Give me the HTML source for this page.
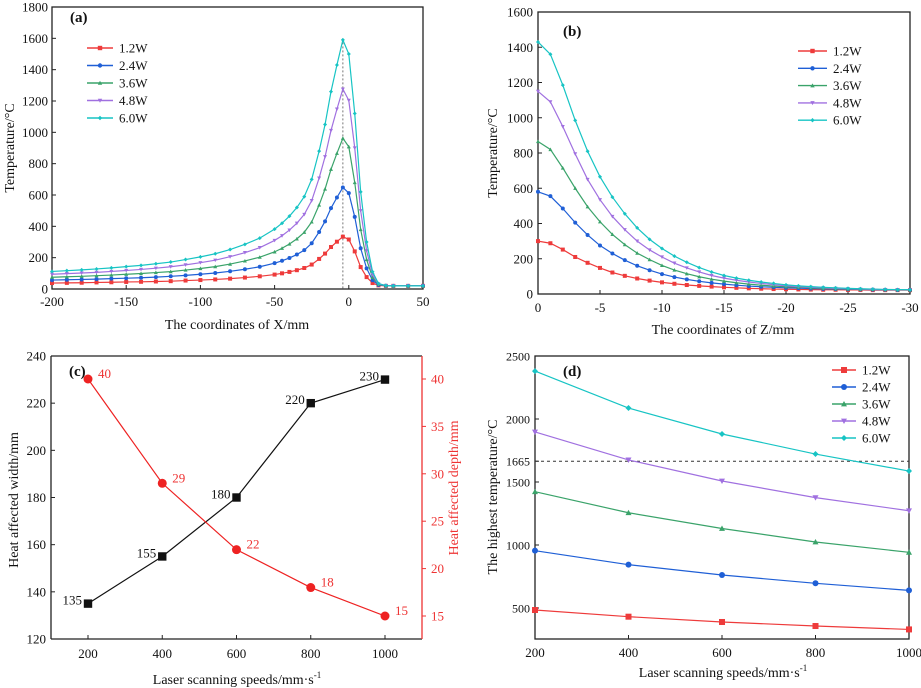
<!DOCTYPE html>
<html><head><meta charset="utf-8"><style>
html,body{margin:0;padding:0;background:#fff}
svg{display:block;font-family:"Liberation Serif",serif}
</style></head><body>
<svg id="fig" width="921" height="688" viewBox="0 0 921 688" xmlns="http://www.w3.org/2000/svg"></svg>
<script>
// ---------- data ----------
const powers = ["1.2W","2.4W","3.6W","4.8W","6.0W"];
const colors = ["#ee3b3b","#1f5fd6","#3aa36a","#a070e0","#17c4c4"];
const aX = [-200,-190,-180,-170,-160,-150,-140,-130,-120,-110,-100,-90,-80,-70,-60,-50,-45,-40,-35,-30,-25,-20,-16,-12,-8,-4,0,4,8,12,16,20,25,30,40,50];
const aT12 = [38,39,40,42,43,45,46,48,50,54,57,61,66,73,81,92,100,109,120,134,156,192,226,268,302,334,316,240,140,76,38,23,20,20,20,20];
const aT24 = [57,59,61,63,66,69,72,76,81,87,94,102,113,126,142,165,180,198,220,248,292,364,432,516,584,648,612,460,260,132,56,26,21,20,20,20];
const aT36 = [75,78,81,85,89,94,99,105,111,121,131,143,159,179,203,237,260,287,320,362,428,536,638,764,866,962,908,680,380,188,74,29,21,20,20,20];
const aT48 = [94,98,102,106,112,118,125,133,142,154,168,184,206,232,264,310,340,376,420,476,564,708,844,1012,1148,1276,1204,900,500,244,92,32,22,20,20,20];
const aT60 = [112,117,122,128,135,143,151,161,172,188,205,225,252,285,325,382,420,465,520,590,700,880,1050,1260,1430,1590,1500,1120,620,300,110,35,22,20,20,20];
const aTicksX = [-200,-150,-100,-50,0,50];
const aTicksY = [0,200,400,600,800,1000,1200,1400,1600,1800];

const bZ = [0,-1,-2,-3,-4,-5,-6,-7,-8,-9,-10,-11,-12,-13,-14,-15,-16,-17,-18,-19,-20,-21,-22,-23,-24,-25,-26,-27,-28,-29,-30];
const bT12 = [300,288,252,210,177,148,122,103,88,76,66,58,51,46,42,38,35,32,30,28,27,26,25,24,24,23,23,22,22,22,22];
const bT24 = [580,555,485,405,335,275,230,192,160,135,113,96,83,72,63,56,50,45,41,38,35,33,31,29,28,27,26,25,24,23,23];
const bT36 = [865,820,715,600,495,410,338,280,232,195,162,136,115,98,84,73,64,56,50,45,41,38,35,32,30,28,27,26,25,24,23];
const bT48 = [1150,1090,950,795,650,535,440,365,300,250,210,175,148,125,105,90,78,68,60,53,47,42,38,35,32,30,28,26,25,24,23];
const bT60 = [1430,1360,1185,985,810,665,550,455,375,310,258,215,180,150,125,105,90,78,68,60,52,46,42,38,35,32,30,28,26,25,24];
const bTicksX = [0,-5,-10,-15,-20,-25,-30];
const bTicksY = [0,200,400,600,800,1000,1200,1400,1600];

const cSpeeds = [200,400,600,800,1000];
const cWidth = [135,155,180,220,230];
const cDepth = [40,29,22,18,15];
const cTicksY = [120,140,160,180,200,220,240];
const cTicksY2 = [15,20,25,30,35,40];

const dSpeeds = [200,400,600,800,1000];
const dT12 = [484,431,389,357,330];
const dT24 = [955,844,762,696,640];
const dT36 = [1423,1256,1131,1024,942];
const dT48 = [1897,1675,1508,1376,1272];
const dT60 = [2380,2087,1881,1722,1587];
const dLimit = 1665;
const dTicksY = [500,1000,1500,1665,2000,2500];

// ---------- helpers ----------
const svg = document.getElementById('fig');
const NS = "http://www.w3.org/2000/svg";
function mk(tag, attrs, parent){
  const e = document.createElementNS(NS, tag);
  for (const k in attrs) e.setAttribute(k, attrs[k]);
  (parent||svg).appendChild(e); return e;
}
function txt(s, x, y, opts, parent){
  const e = mk('text', Object.assign({x:x, y:y, 'font-size':13, fill:'#111'}, opts||{}), parent);
  e.textContent = s; return e;
}
function supTxt(s, sup, x, y, parent){
  const e = mk('text', {x:x, y:y, 'font-size':14, fill:'#111', 'text-anchor':'middle'}, parent);
  const t1 = mk('tspan', {}, e); t1.textContent = s;
  const t2 = mk('tspan', {dy:-6, 'font-size':9}, e); t2.textContent = sup;
  return e;
}
function lin(d0,d1,r0,r1){ return v => r0 + (v-d0)*(r1-r0)/(d1-d0); }
function marker(shape, x, y, c, s, g){
  let m;
  if (shape==='sq') m = mk('rect',{x:x-s,y:y-s,width:2*s,height:2*s,fill:c},g);
  else if (shape==='ci') m = mk('circle',{cx:x,cy:y,r:s,fill:c},g);
  else if (shape==='up') m = mk('polygon',{points:`${x},${y-s} ${x-s},${y+s*0.8} ${x+s},${y+s*0.8}`,fill:c},g);
  else if (shape==='dn') m = mk('polygon',{points:`${x},${y+s} ${x-s},${y-s*0.8} ${x+s},${y-s*0.8}`,fill:c},g);
  else m = mk('polygon',{points:`${x},${y-s} ${x+s},${y} ${x},${y+s} ${x-s},${y}`,fill:c},g);
  return m;
}
const shapes = ['sq','ci','up','dn','di'];

function frame(L,T,R,B,name){
  const r = mk('rect',{x:L,y:T,width:R-L,height:B-T,fill:'none',stroke:'#222','stroke-width':1.3});
  
  
}
function series(xs, ys, X, Y, c, shape, s, name){
  const g = mk('g',{});
  
  
  mk('polyline',{points:xs.map((v,i)=>X(v)+','+Y(ys[i])).join(' '),fill:'none',stroke:c,'stroke-width':1.2},g);
  xs.forEach((v,i)=>marker(shape, X(v), Y(ys[i]), c, s, g));
  return g;
}
function legend(x0, y0, dy, sz, len){
  const g = mk('g',{});
  
  
  powers.forEach((p,i)=>{
    const y = y0 + i*dy;
    const e = mk('g',{},g);
    
    
    mk('line',{x1:x0,y1:y,x2:x0+len,y2:y,stroke:colors[i],'stroke-width':1.4},e);
    marker(shapes[i], x0+len/2, y, colors[i], sz, e);
    txt(p, x0+len+6, y+4.5, {'font-size':13}, e);
  });
}

// ---------- panel a ----------
(function(){
  const L=52,R=423,T=7,B=289;
  const X=lin(-200,50,L,R), Y=lin(0,1800,B,T);
  frame(L,T,R,B,'panel-a-plot-area');
  aTicksX.forEach(v=>{ mk('line',{x1:X(v),y1:B,x2:X(v),y2:B-4,stroke:'#222'}); txt(v, X(v), B+17, {'text-anchor':'middle'}); });
  aTicksY.forEach(v=>{ mk('line',{x1:L,y1:Y(v),x2:L+4,y2:Y(v),stroke:'#222'}); txt(v, L-4, Y(v)+4.5, {'text-anchor':'end'}); });
  mk('line',{x1:X(-4),y1:Y(1600),x2:X(-4),y2:B,stroke:'#777','stroke-dasharray':'2,2'});
  const all=[aT12,aT24,aT36,aT48,aT60];
  all.forEach((s,i)=>series(aX,s,X,Y,colors[i],shapes[i],2,'panel-a-series-'+powers[i].replace('.','-').toLowerCase()));
  txt('(a)',70,22,{'font-weight':'bold','font-size':15});
  legend(87,48,17.5,2.2,26);
  txt('The coordinates of X/mm',237,329,{'text-anchor':'middle','font-size':14});
  txt('Temperature/°C',14,148,{'text-anchor':'middle','font-size':14,transform:'rotate(-90 14 148)'});
})();

// ---------- panel b ----------
(function(){
  const L=538,R=910,T=12,B=294;
  const X=lin(0,-30,L,R), Y=lin(0,1600,B,T);
  frame(L,T,R,B,'panel-b-plot-area');
  bTicksX.forEach(v=>{ mk('line',{x1:X(v),y1:B,x2:X(v),y2:B-4,stroke:'#222'}); txt(v, X(v), B+18, {'text-anchor':'middle'}); });
  bTicksY.forEach(v=>{ mk('line',{x1:L,y1:Y(v),x2:L+4,y2:Y(v),stroke:'#222'}); txt(v, L-5, Y(v)+4.5, {'text-anchor':'end'}); });
  const all=[bT12,bT24,bT36,bT48,bT60];
  all.forEach((s,i)=>series(bZ,s,X,Y,colors[i],shapes[i],2,'panel-b-series-'+powers[i].replace('.','-').toLowerCase()));
  txt('(b)',563,36,{'font-weight':'bold','font-size':15});
  legend(798,51,17.3,2.2,29);
  txt('The coordinates of Z/mm',723,334,{'text-anchor':'middle','font-size':14});
  txt('Temperature/°C',497,153,{'text-anchor':'middle','font-size':14,transform:'rotate(-90 497 153)'});
})();

// ---------- panel c ----------
(function(){
  const L=51,R=422,T=356,B=639;
  const X=lin(200,1000,88,385), Y=lin(120,240,B,T), Y2=lin(40,15,379,616);
  mk('line',{x1:L,y1:T,x2:R,y2:T,stroke:'#222','stroke-width':1.3});
  mk('line',{x1:L,y1:B,x2:R,y2:B,stroke:'#222','stroke-width':1.3});
  mk('line',{x1:L,y1:T,x2:L,y2:B,stroke:'#222','stroke-width':1.3});
  mk('line',{x1:R,y1:T,x2:R,y2:B,stroke:'#e33','stroke-width':1.3});
  cSpeeds.forEach(v=>{ mk('line',{x1:X(v),y1:B,x2:X(v),y2:B-4,stroke:'#222'}); txt(v, X(v), B+19, {'text-anchor':'middle'}); });
  cTicksY.forEach(v=>{ mk('line',{x1:L,y1:Y(v),x2:L+4,y2:Y(v),stroke:'#222'}); txt(v, L-5, Y(v)+4.5, {'text-anchor':'end'}); });
  cTicksY2.forEach(v=>{ mk('line',{x1:R,y1:Y2(v),x2:R+4,y2:Y2(v),stroke:'#e33'}); txt(v, R+9, Y2(v)+4.5, {fill:'#e33'}); });
  const gw=series(cSpeeds,cWidth,X,Y,'#111','sq',4.2,'panel-c-width-series');
  cSpeeds.forEach((v,i)=>txt(cWidth[i], X(v)-6, Y(cWidth[i])+1, {'text-anchor':'end'}, gw));
  const gd=series(cSpeeds,cDepth,X,Y2,'#ee2222','ci',4.5,'panel-c-depth-series');
  cSpeeds.forEach((v,i)=>txt(cDepth[i], X(v)+10, Y2(cDepth[i])-1, {fill:'#e33'}, gd));
  txt('(c)',69,376,{'font-weight':'bold','font-size':15});
  supTxt('Laser scanning speeds/mm·s','-1',237,684);
  txt('Heat affected width/mm',18,500,{'text-anchor':'middle','font-size':14,transform:'rotate(-90 18 500)'});
  txt('Heat affected depth/mm',458,488,{'text-anchor':'middle','font-size':14,fill:'#e33',transform:'rotate(-90 458 488)'});
})();

// ---------- panel d ----------
(function(){
  const L=535,R=909,T=356,B=639;
  const X=lin(200,1000,L,R), Y=lin(500,2000,608,419);
  frame(L,T,R,B,'panel-d-plot-area');
  dSpeeds.forEach(v=>{ mk('line',{x1:X(v),y1:B,x2:X(v),y2:B-4,stroke:'#222'}); txt(v, X(v), B+18, {'text-anchor':'middle'}); });
  dTicksY.forEach(v=>{ mk('line',{x1:L,y1:Y(v),x2:L+4,y2:Y(v),stroke:'#222'}); txt(v, L-5, Y(v)+4.5, {'text-anchor':'end','font-size':12}); });
  const dl=mk('line',{x1:L,y1:Y(dLimit),x2:R,y2:Y(dLimit),stroke:'#333','stroke-dasharray':'3,3'});
  
  
  const all=[dT12,dT24,dT36,dT48,dT60];
  all.forEach((s,i)=>series(dSpeeds,s,X,Y,colors[i],shapes[i],3,'panel-d-series-'+powers[i].replace('.','-').toLowerCase()));
  txt('(d)',563,376,{'font-weight':'bold','font-size':15});
  legend(832,370,17,3,24);
  supTxt('Laser scanning speeds/mm·s','-1',723,677);
  txt('The highest temperature/°C',497,497,{'text-anchor':'middle','font-size':14,transform:'rotate(-90 497 497)'});
})();
</script>
</body></html>
